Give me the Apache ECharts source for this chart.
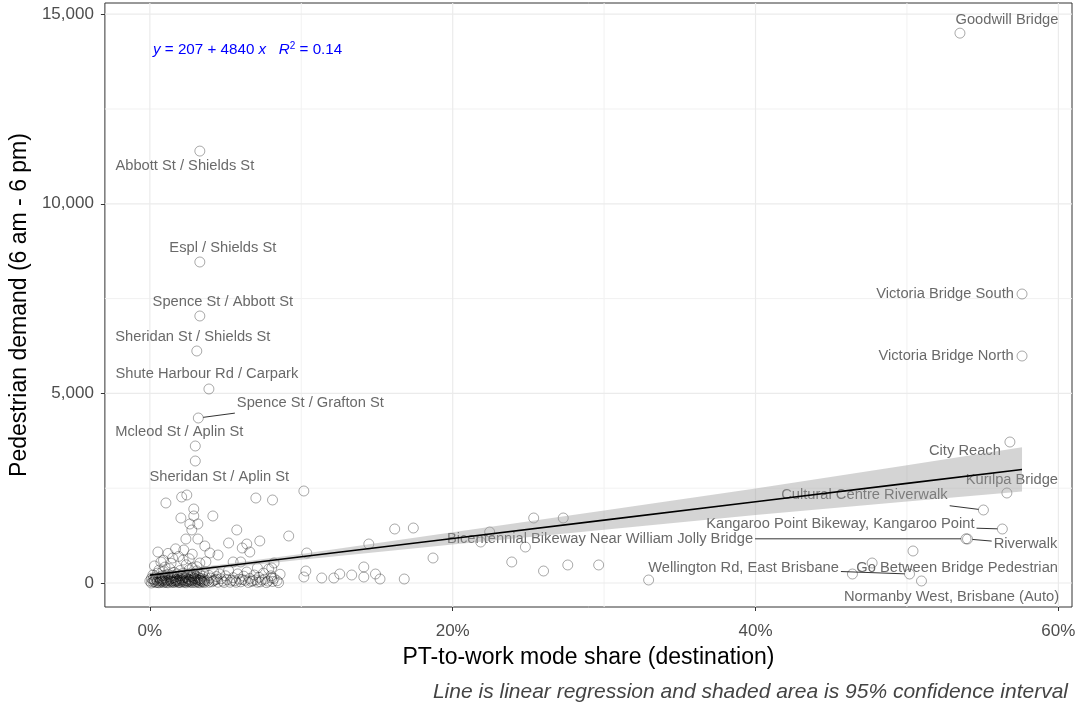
<!DOCTYPE html>
<html><head><meta charset="utf-8">
<script src="https://cdn.jsdelivr.net/npm/echarts@6/dist/echarts.min.js"></script>
<style>html,body{margin:0;padding:0;background:#fff}#c{width:1091px;height:708px}</style>
</head><body><div id="c"></div>
<script>
// ---- axes / ticks ----
const xTicks = [0, 0.2, 0.4, 0.6];
const xMinor = [0.1, 0.3, 0.5];
const yTicks = [0, 5000, 10000, 15000];
const yMinor = [2500, 7500, 12500];

// ---- labelled locations ----
const labelNames = [
  'Goodwill Bridge','Abbott St / Shields St','Espl / Shields St','Spence St / Abbott St',
  'Sheridan St / Shields St','Shute Harbour Rd / Carpark','Spence St / Grafton St',
  'Mcleod St / Aplin St','Sheridan St / Aplin St','Victoria Bridge South','Victoria Bridge North',
  'City Reach','Kurilpa Bridge','Cultural Centre Riverwalk','Kangaroo Point Bikeway, Kangaroo Point',
  'Bicentennial Bikeway Near William Jolly Bridge','Riverwalk','Wellington Rd, East Brisbane',
  'Go Between Bridge Pedestrian','Normanby West, Brisbane (Auto)'
];
const labelShare = [0.535,0.033,0.033,0.033,0.031,0.039,0.032,0.030,0.030,0.576,0.576,
  0.568,0.566,0.5505,0.563,0.539,0.540,0.5017,0.477,0.5096];
const labelDemand = [14500,11390,8465,7041,6118,5116,4351,3613,3217,7621,5986,
  3718,2373,1925,1424,1165,1160,237,527,53];

// ---- other (unlabelled) locations: [share, demand] ----
const otherPoints = [
  [0.0106,2110],[0.021,2268],[0.0244,2320],[0.029,1951],[0.029,1767],[0.0205,1714],[0.0416,1767],
  [0.0317,1556],[0.0264,1556],[0.0277,1398],[0.0574,1398],[0.0917,1239],[0.0238,1160],[0.0317,1160],
  [0.052,1055],[0.064,1028],[0.0726,1108],[0.061,923],[0.066,817],[0.0363,976],[0.0224,870],
  [0.0053,817],[0.015,659],[0.0396,791],[0.045,738],[0.022,606],[0.033,527],[0.0073,554],[0.055,554],
  [0.060,554],[0.071,396],[0.082,527],[0.0785,369],[0.070,2241],[0.081,2189],[0.1017,2426],
  [0.1036,791],[0.103,316],[0.1017,158],[0.1135,132],[0.1215,132],[0.1254,237],[0.1333,211],
  [0.1413,422],[0.1413,158],[0.1446,1028],[0.149,237],[0.152,105],[0.1617,1424],[0.174,1450],
  [0.168,105],[0.187,659],[0.2185,1081],[0.2244,1345],[0.2535,1714],[0.273,1714],[0.248,949],
  [0.239,554],[0.260,316],[0.276,475],[0.2964,475],[0.3294,79],[0.464,237],[0.504,844],
  [0.0805,396],[0.0805,132],
  [0.000,50],[0.001,120],[0.002,30],[0.002,210],[0.003,80],[0.004,160],[0.004,10],[0.005,260],
  [0.005,60],[0.006,140],[0.006,340],[0.007,20],[0.007,100],[0.008,190],[0.008,40],[0.009,300],
  [0.009,70],[0.010,130],[0.010,420],[0.011,15],[0.011,90],[0.012,230],[0.012,55],[0.013,160],
  [0.013,380],[0.014,25],[0.014,110],[0.015,200],[0.015,60],[0.016,280],[0.016,140],[0.017,35],
  [0.017,90],[0.018,240],[0.018,170],[0.019,10],[0.019,70],[0.020,330],[0.020,120],[0.021,45],
  [0.021,190],[0.022,260],[0.022,85],[0.023,20],[0.023,150],[0.024,480],[0.024,60],[0.025,220],
  [0.025,110],[0.026,30],[0.026,350],[0.027,170],[0.027,75],[0.028,400],[0.028,15],[0.029,130],
  [0.029,250],[0.030,50],[0.030,190],[0.031,95],[0.031,320],[0.032,20],[0.032,150],[0.033,70],
  [0.033,230],[0.034,120],[0.034,40],[0.035,180],[0.035,280],[0.036,90],[0.036,10],
  [0.001,0],[0.003,40],[0.004,100],[0.006,5],[0.007,60],[0.008,120],[0.010,30],[0.011,60],
  [0.012,5],[0.013,90],[0.014,50],[0.015,130],[0.016,15],[0.017,60],[0.018,100],[0.019,40],
  [0.020,10],[0.021,80],[0.022,130],[0.023,55],[0.024,5],[0.025,40],[0.026,90],[0.027,20],
  [0.028,60],[0.029,95],[0.030,10],[0.031,40],[0.032,80],[0.033,5],[0.034,70],[0.035,30],
  [0.002,100],[0.005,20],[0.009,10],[0.015,20],[0.018,50],[0.022,30],[0.026,65],[0.030,120],
  [0.033,110],[0.036,50],[0.010,200],[0.020,200],[0.028,180],[0.008,80],[0.024,150],
  [0.038,60],[0.039,200],[0.040,130],[0.041,30],[0.042,300],[0.043,80],[0.044,170],[0.045,20],
  [0.046,240],[0.047,110],[0.048,50],[0.050,190],[0.051,90],[0.052,330],[0.053,20],[0.055,140],
  [0.056,60],[0.058,240],[0.059,100],[0.060,30],[0.062,180],[0.063,70],[0.064,290],[0.066,120],
  [0.067,40],[0.069,210],[0.070,80],[0.072,150],[0.073,30],[0.075,260],[0.076,100],[0.078,50],
  [0.080,190],[0.082,120],[0.084,60],[0.086,230],
  [0.039,20],[0.042,60],[0.044,100],[0.049,15],[0.054,70],[0.057,20],[0.061,90],[0.065,15],
  [0.068,60],[0.071,20],[0.074,80],[0.077,10],[0.081,40],[0.085,10],
  [0.003,450],[0.009,600],[0.014,520],[0.019,700],[0.026,640],[0.031,430],[0.037,560],[0.017,900],
  [0.028,760],[0.012,780]
];

// ---- regression line and 95% band ----
const fitShare = [0, 0.05, 0.1, 0.2, 0.3, 0.4, 0.5, 0.576];
const fitDemand = [207, 449, 691, 1175, 1659, 2143, 2627, 2995];
const bandLow  = [142, 394, 616, 1015, 1404, 1793, 2147, 2410];
const bandHigh = [272, 504, 766, 1335, 1914, 2493, 3107, 3580];

// ---- label placement (pixel offsets of label centre from point, style only) ----
const labelOffsets = {
  'Goodwill Bridge':[47,-13], 'Abbott St / Shields St':[-15,15], 'Espl / Shields St':[23,-14],
  'Spence St / Abbott St':[23,-14], 'Sheridan St / Shields St':[-4,-14],
  'Shute Harbour Rd / Carpark':[-2,-15], 'Spence St / Grafton St':[112,-15],
  'Mcleod St / Aplin St':[-16,-14], 'Sheridan St / Aplin St':[24,16],
  'Victoria Bridge South':[-77,0], 'Victoria Bridge North':[-76,0], 'City Reach':[-45,9],
  'Kurilpa Bridge':[5,-13], 'Cultural Centre Riverwalk':[-119,-15],
  'Kangaroo Point Bikeway, Kangaroo Point':[-162,-5],
  'Bicentennial Bikeway Near William Jolly Bridge':[-366,0], 'Riverwalk':[58,5],
  'Wellington Rd, East Brisbane':[-166,-6], 'Go Between Bridge Pedestrian':[85,5],
  'Normanby West, Brisbane (Auto)':[30,16]
};
const leaderNames = ['Spence St / Grafton St','Cultural Centre Riverwalk',
  'Kangaroo Point Bikeway, Kangaroo Point','Bicentennial Bikeway Near William Jolly Bridge',
  'Riverwalk','Wellington Rd, East Brisbane'];

const FONT = '"Liberation Sans", Arial, sans-serif';
const LABEL_SIZE = 14.7;
const measureCtx = document.createElement('canvas').getContext('2d');
measureCtx.font = LABEL_SIZE + 'px ' + FONT;

const chart = echarts.init(document.getElementById('c'), null, {renderer:'canvas'});

const labelledData = labelNames.map((n,i)=>({
  name:n, value:[labelShare[i], labelDemand[i]],
  label:{offset: labelOffsets[n]}
}));

const pointStyle = {color:'rgba(0,0,0,0)', borderColor:'rgba(0,0,0,0.42)', borderWidth:1};

function gridRender(params, api){
  const cs = params.coordSys;
  const kids = [];
  const addV = (v, col, w)=>{ const x = api.coord([v, 0])[0];
    kids.push({type:'line', shape:{x1:x, y1:cs.y, x2:x, y2:cs.y+cs.height}, style:{stroke:col, lineWidth:w}}); };
  const addH = (v, col, w)=>{ const y = api.coord([0, v])[1];
    kids.push({type:'line', shape:{x1:cs.x, y1:y, x2:cs.x+cs.width, y2:y}, style:{stroke:col, lineWidth:w}}); };
  xMinor.forEach(v=>addV(v,'#f2f2f2',1));
  yMinor.forEach(v=>addH(v,'#f2f2f2',1));
  xTicks.forEach(v=>addV(v,'#ebebeb',1.2));
  yTicks.forEach(v=>addH(v,'#ebebeb',1.2));
  return {type:'group', children:kids};
}

function leaderRender(params, api){
  const kids = [];
  leaderNames.forEach(n=>{
    const i = labelNames.indexOf(n);
    const p = api.coord([labelShare[i], labelDemand[i]]);
    const off = labelOffsets[n];
    const c = [p[0]+off[0], p[1]+off[1]];
    const hw = measureCtx.measureText(n).width/2 + 2, hh = 12;
    const dx = p[0]-c[0], dy = p[1]-c[1];
    const s = Math.min(dx ? hw/Math.abs(dx) : Infinity, dy ? hh/Math.abs(dy) : Infinity);
    if (s >= 1) return;
    const end = [c[0]+dx*s, c[1]+dy*s];
    const len = Math.hypot(dx, dy);
    const start = [p[0]-dx/len*5, p[1]-dy/len*5];
    kids.push({type:'line', shape:{x1:start[0], y1:start[1], x2:end[0], y2:end[1]},
      style:{stroke:'#333', lineWidth:1}});
  });
  return {type:'group', children:kids};
}

chart.setOption({
  animation:false,
  backgroundColor:'#ffffff',
  textStyle:{fontFamily:FONT},
  grid:{left:104, right:19, top:3, bottom:101, show:true, borderColor:'#333333', borderWidth:1, backgroundColor:'transparent'},
  xAxis:{
    type:'value', min:-0.0297, max:0.609,
    name:'PT-to-work mode share (destination)', nameLocation:'middle', nameGap:39,
    nameTextStyle:{fontSize:23, color:'#000', fontFamily:FONT},
    axisLine:{show:false, onZero:false},
    axisTick:{show:true, customValues:xTicks, length:4, lineStyle:{color:'#333', width:1}},
    axisLabel:{customValues:xTicks, fontSize:17, color:'#4d4d4d', margin:16, fontFamily:FONT,
      formatter:v=>Math.round(v*100)+'%'},
    splitLine:{show:false}
  },
  yAxis:{
    type:'value', min:-633, max:15295,
    name:'Pedestrian demand (6 am - 6 pm)', nameLocation:'middle', nameGap:70,
    nameTextStyle:{fontSize:23, color:'#000', fontFamily:FONT},
    axisLine:{show:false, onZero:false},
    axisTick:{show:true, customValues:yTicks, length:4, lineStyle:{color:'#333', width:1}},
    axisLabel:{customValues:yTicks, fontSize:17, color:'#4d4d4d', margin:11, fontFamily:FONT,
      formatter:v=>v.toLocaleString('en-US')},
    splitLine:{show:false}
  },
  series:[
    { type:'custom', z:0, silent:true, data:[0], renderItem:gridRender },
    { type:'scatter', z:2, symbol:'circle', symbolSize:10, itemStyle:pointStyle, silent:true,
      data:otherPoints },
    { type:'scatter', z:2, symbol:'circle', symbolSize:10, itemStyle:pointStyle, silent:true,
      data:labelledData,
      label:{show:true, position:'inside', formatter:'{b}', fontSize:LABEL_SIZE, color:'#444', fontFamily:FONT}
    },
    { type:'custom', z:2, silent:true, data:[0], renderItem:leaderRender },
    { type:'custom', z:3, silent:true, data:[0],
      renderItem:(params, api)=>{
        const pts = [];
        for (let i=0;i<fitShare.length;i++) pts.push(api.coord([fitShare[i], bandHigh[i]]));
        for (let i=fitShare.length-1;i>=0;i--) pts.push(api.coord([fitShare[i], bandLow[i]]));
        return {type:'polygon', shape:{points:pts}, style:{fill:'rgba(153,153,153,0.42)', stroke:'none'}};
      }
    },
    { type:'line', z:4, silent:true, symbol:'none', data:fitShare.map((x,i)=>[x, fitDemand[i]]),
      lineStyle:{color:'#000', width:1.6} }
  ],
  graphic:[
    { type:'text', left:153, top:41, z:10, style:{
        text:'{i|y} = 207 + 4840 {i|x}   {i|R}{s|2} = 0.14',
        fill:'#0000ff', font:'15.2px '+FONT,
        rich:{ i:{fontStyle:'italic', fontSize:15.2, fill:'#0000ff', fontFamily:FONT},
               s:{fontSize:10, fill:'#0000ff', verticalAlign:'top', padding:[0,0,8,0], fontFamily:FONT} } } },
    { type:'text', right:23, top:682, z:10, style:{
        text:'Line is linear regression and shaded area is 95% confidence interval',
        fill:'#444', font:'italic 21px '+FONT } }
  ]
});
</script></body></html>
